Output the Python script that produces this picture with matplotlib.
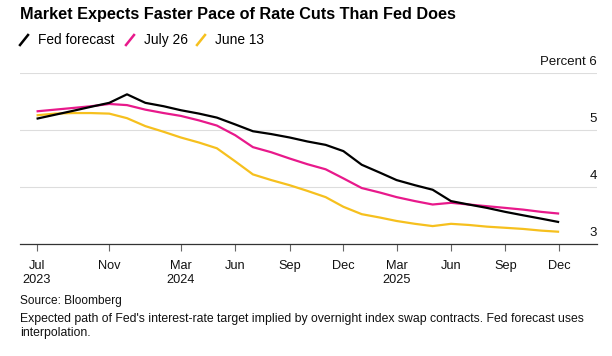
import matplotlib
matplotlib.use("Agg")
import matplotlib.pyplot as plt
from matplotlib.lines import Line2D
import pandas as pd

plt.rcParams['font.family'] = ['Liberation Sans', 'DejaVu Sans']

# monthly points, Jul 2023 .. Dec 2025
months = pd.date_range("2023-07-01", "2025-12-01", freq="MS")

fed_forecast = [5.20, 5.27, 5.34, 5.41, 5.48, 5.63, 5.48, 5.42, 5.35, 5.29,
                5.22, 5.10, 4.98, 4.93, 4.87, 4.80, 4.74, 4.63, 4.39, 4.25,
                4.12, 4.03, 3.95, 3.75, 3.69, 3.63, 3.56, 3.50, 3.44, 3.38]
july_26 = [5.33, 5.36, 5.39, 5.42, 5.46, 5.44, 5.36, 5.30, 5.25, 5.17,
           5.08, 4.91, 4.70, 4.61, 4.50, 4.40, 4.31, 4.15, 3.98, 3.90,
           3.82, 3.75, 3.69, 3.72, 3.69, 3.66, 3.63, 3.60, 3.56, 3.53]
june_13 = [5.26, 5.29, 5.30, 5.30, 5.29, 5.21, 5.07, 4.97, 4.87, 4.78,
           4.68, 4.45, 4.22, 4.12, 4.03, 3.93, 3.82, 3.65, 3.52, 3.46,
           3.40, 3.35, 3.31, 3.35, 3.33, 3.30, 3.28, 3.26, 3.23, 3.21]

tick_dates = ["2023-07-01", "2023-11-01", "2024-03-01", "2024-06-01", "2024-09-01",
              "2024-12-01", "2025-03-01", "2025-06-01", "2025-09-01", "2025-12-01"]
tick_labels = ["Jul\n2023", "Nov", "Mar\n2024", "Jun", "Sep",
               "Dec", "Mar\n2025", "Jun", "Sep", "Dec"]
y_ticks = [3, 4, 5, 6]

BLACK = "#000000"
MAGENTA = "#e8198b"
YELLOW = "#f6c01e"

W, H = 612, 356
fig = plt.figure(figsize=(W / 100, H / 100), dpi=100)
ax = fig.add_axes([20 / W, 1 - 243.7 / H, 577 / W, 170.4 / H])

ax.plot(months, june_13, color=YELLOW, lw=1.6, solid_capstyle="butt")
ax.plot(months, july_26, color=MAGENTA, lw=1.6, solid_capstyle="butt")
ax.plot(months, fed_forecast, color=BLACK, lw=1.6, solid_capstyle="butt")

ax.set_ylim(3, 6)
ax.set_xlim(pd.Timestamp("2023-06-03"), pd.Timestamp("2026-02-03"))

for s in ["top", "right", "left"]:
    ax.spines[s].set_visible(False)
ax.spines["bottom"].set_color("#333333")
ax.spines["bottom"].set_linewidth(0.9)

ax.set_yticks(y_ticks)
ax.tick_params(axis="y", length=0, labelleft=False)
ax.grid(axis="y", color="#dddddd", lw=0.8)
ax.set_axisbelow(True)

for v in y_ticks:
    lab = "Percent 6" if v == 6 else str(v)
    ax.annotate(lab, (1.0, v), xycoords=ax.get_yaxis_transform(),
                xytext=(0, 3.6), textcoords="offset points",
                ha="right", va="bottom", fontsize=9.5, color="#111111")

ax.set_xticks([pd.Timestamp(d) for d in tick_dates])
ax.set_xticklabels(tick_labels, fontsize=9.2, color="#111111", linespacing=1.15)
ax.tick_params(axis="x", direction="out", length=5, width=0.8, color="#666666", pad=7)

fig.text(20 / W, 1 - 15 / H, "Market Expects Faster Pace of Rate Cuts Than Fed Does",
         fontsize=11.7, fontweight="bold", va="center", ha="left")

# legend with slash marks
legend_items = [("Fed forecast", BLACK, 20), ("July 26", MAGENTA, 126), ("June 13", YELLOW, 197)]
for label, col, x0 in legend_items:
    fig.add_artist(Line2D([x0 / W, (x0 + 8) / W], [1 - 45 / H, 1 - 35 / H],
                          color=col, lw=1.8, transform=fig.transFigure))
    fig.text((x0 + 18) / W, 1 - 40 / H, label, fontsize=9.9, va="center", ha="left")

fig.text(20 / W, 1 - 301 / H, "Source: Bloomberg", fontsize=8.6, va="center", color="#111111")
fig.text(20 / W, 1 - 326 / H,
         "Expected path of Fed's interest-rate target implied by overnight index swap contracts. Fed forecast uses\ninterpolation.",
         fontsize=8.85, va="center", color="#111111", linespacing=1.12)

fig.savefig("out.png", dpi=100)
